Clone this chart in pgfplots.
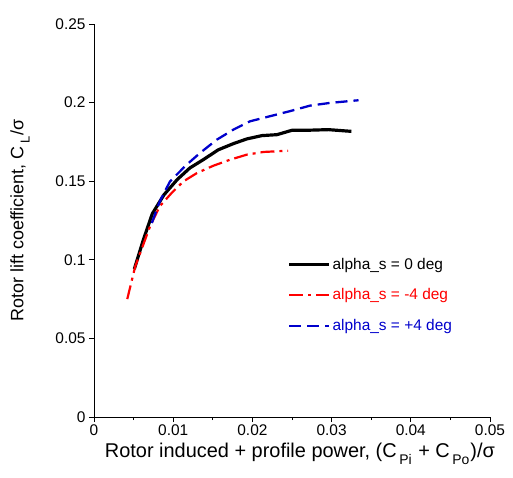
\documentclass[border=0pt]{standalone}
\usepackage{fontspec}
\setmainfont{Liberation Sans}
\usepackage{pgfplots}
\pgfplotsset{compat=1.18}
\newcommand\sub[2][13]{\hspace{2.5bp}\raisebox{-0.65ex}{\fontsize{#1}{#1}\selectfont #2}\hspace{1bp}}
\begin{document}
\begin{tikzpicture}
\begin{axis}[
  name=ax,
  scale only axis,
  width=396bp, height=393bp,
  xmin=0, xmax=0.05, ymin=0, ymax=0.25,
  scaled x ticks=false, scaled y ticks=false,
  axis x line*=bottom, axis y line*=left,
  axis line style={-, line width=0.9pt},
  tick align=outside,
  xtick={0,0.01,0.02,0.03,0.04,0.05},
  xticklabels={0,0.01,0.02,0.03,0.04,0.05},
  minor xtick={0.005,0.015,0.025,0.035,0.045},
  ytick={0,0.05,0.1,0.15,0.2,0.25},
  yticklabels={0,0.05,0.1,0.15,0.2,0.25},
  major tick length=5bp, minor tick length=3bp,
  tick style={black, line width=0.8pt},
  ticklabel style={font=\fontsize{15.5}{17}\selectfont},
  xticklabel style={yshift=1bp},
  xlabel={Rotor induced + profile power, (C\sub[14]{Pi} + C\sub[14]{Po})/σ},
  ylabel={Rotor lift coefficient, C\sub{L}/σ},
  xlabel style={font=\fontsize{20}{22}\selectfont, at={(axis description cs:0.52,0)}, anchor=north, yshift=-23bp},
  ylabel style={font=\fontsize{18}{20}\selectfont, at={(axis description cs:-0.187,0.5)}, anchor=center},
  legend style={draw=none, fill=none, at={(axis description cs:0.488,0.41)}, anchor=north west,
    font=\fontsize{15.5}{18}\selectfont, row sep=14bp, inner sep=0pt},
  legend cell align=left,
  legend image code/.code={\draw[#1] (0bp,0bp) -- (40bp,0bp);},
]
\addplot[black, line width=3.2pt] coordinates {
(0.00509,0.0941) (0.00623,0.1127) (0.00736,0.1293) (0.00884,0.1414) (0.0105,0.151)
(0.0121,0.1584) (0.0138,0.1637) (0.0157,0.170) (0.0176,0.1739) (0.0193,0.1769)
(0.0212,0.179) (0.0231,0.1796) (0.0250,0.1824) (0.0269,0.1824) (0.0296,0.1828) (0.0325,0.1817)
};
\addlegendentry{alpha\_s = 0 deg}
\addplot[red, line width=2.2pt, dash pattern=on 14bp off 5bp on 3bp off 5bp] coordinates {
(0.0042,0.075) (0.0052,0.0957) (0.00707,0.1212) (0.0083,0.134) (0.0098,0.1425)
(0.0113,0.1499) (0.0130,0.1552) (0.0151,0.1599) (0.0172,0.1637) (0.0193,0.1669)
(0.0214,0.1686) (0.0245,0.1694)
};
\addlegendentry{\textcolor{red}{alpha\_s = -4 deg}}
\addplot[blue!80!black, line width=2.3pt, dash pattern=on 12bp off 6bp] coordinates {
(0.0073,0.1234) (0.0083,0.1371) (0.0096,0.1499) (0.0117,0.1605) (0.0134,0.168)
(0.0155,0.1764) (0.0176,0.1828) (0.0197,0.1881) (0.0222,0.1913) (0.0247,0.1945)
(0.0273,0.1981) (0.0298,0.1998) (0.0334,0.2015)
};
\addlegendentry{\textcolor{blue!80!black}{alpha\_s = +4 deg}}
\end{axis}
\pgfresetboundingbox
\path ([shift={(-94bp,-61bp)}]ax.south west) rectangle ([shift={(23bp,24bp)}]ax.north east);
\end{tikzpicture}
\end{document}
